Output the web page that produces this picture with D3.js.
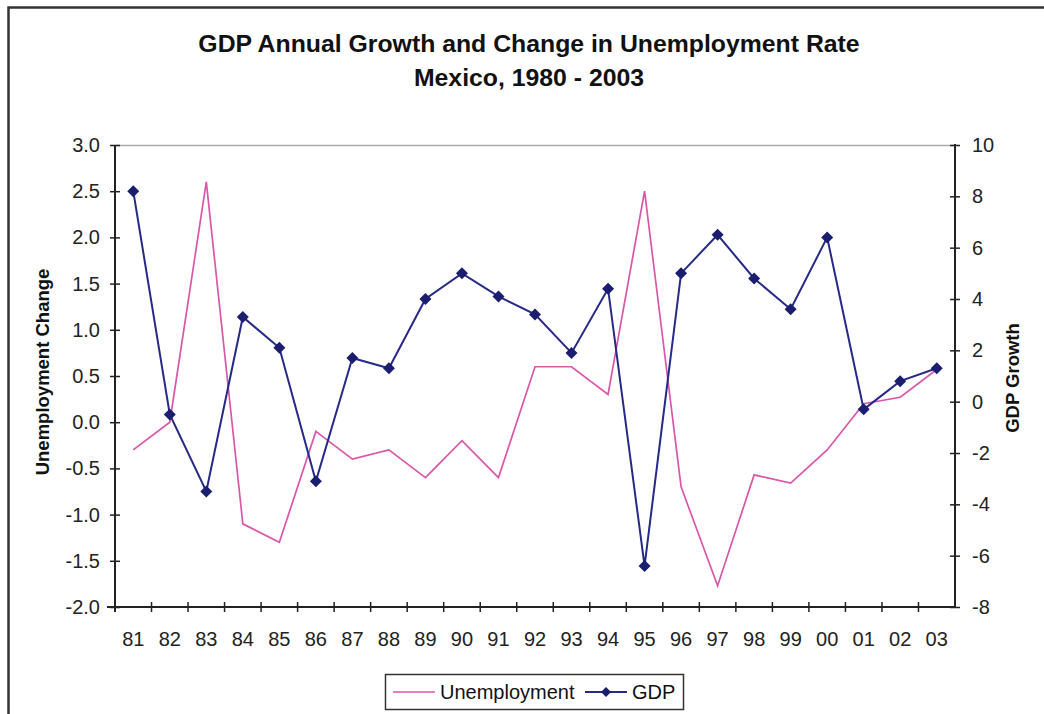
<!DOCTYPE html>
<html>
<head>
<meta charset="utf-8">
<script src="https://cdn.jsdelivr.net/npm/d3@7"></script>
<style>
  html, body { margin: 0; padding: 0; background: #fff; }
  svg { display: block; font-family: "Liberation Sans", Arial, sans-serif; }
</style>
</head>
<body>
<svg id="chart" width="1044" height="714"></svg>
<script>
const years = ["81","82","83","84","85","86","87","88","89","90","91","92","93","94","95","96","97","98","99","00","01","02","03"];
const unemployment = [-0.3, 0.0, 2.6, -1.1, -1.3, -0.1, -0.4, -0.3, -0.6, -0.2, -0.6, 0.6, 0.6, 0.3, 2.5, -0.7, -1.77, -0.57, -0.66, -0.3, 0.2, 0.27, 0.57];
const gdp = [8.2, -0.5, -3.5, 3.3, 2.1, -3.1, 1.7, 1.3, 4.0, 5.0, 4.1, 3.4, 1.9, 4.4, -6.4, 5.0, 6.5, 4.8, 3.6, 6.4, -0.3, 0.8, 1.3];
const leftTicks = [3.0, 2.5, 2.0, 1.5, 1.0, 0.5, 0.0, -0.5, -1.0, -1.5, -2.0];
const rightTicks = [10, 8, 6, 4, 2, 0, -2, -4, -6, -8];
const titleLines = ["GDP Annual Growth and Change in Unemployment Rate", "Mexico, 1980 - 2003"];

const svg = d3.select("#chart");
const L = 115, R = 955, T = 145, B = 607;
const pink = "#d957a9", navy = "#262a86", markFill = "#1b1d6e";
const FS = 20;
const hyphen = f => d => f(d).replace("\u2212", "-");

// outer frame (top & left visible)
svg.append("path").attr("d", "M8.5,714 L8.5,7.5 L1044,7.5")
  .attr("fill", "none").attr("stroke", "#333").attr("stroke-width", 2.5);

// title
svg.selectAll("text.title").data(titleLines).enter().append("text")
  .attr("class", "title")
  .attr("x", 529).attr("y", (d, i) => 52 + i * 34)
  .attr("text-anchor", "middle")
  .style("font-size", "24.8px").attr("font-weight", "bold").attr("fill", "#111")
  .text(d => d);

const x = d3.scaleBand().domain(years).range([L, R]);
const yL = d3.scaleLinear().domain([-2, 3]).range([B, T]);
const yR = d3.scaleLinear().domain([-8, 10]).range([B, T]);

// top plot border (grey)
svg.append("line").attr("x1", L).attr("x2", R).attr("y1", T + 0.5).attr("y2", T + 0.5)
  .attr("stroke", "#aaa").attr("stroke-width", 1.5);

function styleTicks(g) {
  g.selectAll("text").style("font-size", FS + "px").attr("fill", "#222")
    .style("font-family", "'Liberation Sans', Arial, sans-serif");
}

// left axis
const gL = svg.append("g").attr("transform", `translate(${L},0)`)
  .call(d3.axisLeft(yL).tickValues(leftTicks).tickFormat(hyphen(d3.format(".1f"))).tickSize(0).tickPadding(15));
gL.select(".domain").remove();
gL.append("line").attr("y1", T).attr("y2", B + 5).attr("stroke", "#222").attr("stroke-width", 2);
gL.selectAll(".tick").append("line").attr("x1", -5).attr("x2", 5).attr("stroke", "#222").attr("stroke-width", 1.5);
styleTicks(gL);

// right axis
const gR = svg.append("g").attr("transform", `translate(${R},0)`)
  .call(d3.axisRight(yR).tickValues(rightTicks).tickFormat(hyphen(d3.format("d"))).tickSize(0).tickPadding(17));
gR.select(".domain").remove();
gR.append("line").attr("y1", T - 1).attr("y2", B + 1).attr("stroke", "#222").attr("stroke-width", 2);
gR.selectAll(".tick").append("line").attr("x1", -5).attr("x2", 5).attr("stroke", "#222").attr("stroke-width", 1.5);
styleTicks(gR);

// bottom axis
const gB = svg.append("g").attr("transform", `translate(0,${B})`)
  .call(d3.axisBottom(x).tickSize(0).tickPadding(25));
gB.select(".domain").remove();
gB.append("line").attr("x1", L - 8).attr("x2", R).attr("stroke", "#222").attr("stroke-width", 2);
const bounds = years.map(y => x(y)).concat([R]);
gB.selectAll("line.bt").data(bounds.slice(1, -1)).enter().append("line").attr("class", "bt")
  .attr("x1", d => d).attr("x2", d => d).attr("y1", -5).attr("y2", 5)
  .attr("stroke", "#222").attr("stroke-width", 1.5);
styleTicks(gB);

// axis titles
svg.append("text").attr("transform", "translate(49,372) rotate(-90)")
  .attr("text-anchor", "middle").style("font-size", "18.5px").attr("font-weight", "bold").attr("fill", "#111")
  .text("Unemployment Change");
svg.append("text").attr("transform", "translate(1019,378) rotate(-90)")
  .attr("text-anchor", "middle").style("font-size", "18.5px").attr("font-weight", "bold").attr("fill", "#111")
  .text("GDP Growth");

const cx = d => x(d) + x.bandwidth() / 2;

// unemployment line
svg.append("path").datum(years.map((yr, i) => [cx(yr), yL(unemployment[i])]))
  .attr("d", d3.line()).attr("fill", "none").attr("stroke", pink).attr("stroke-width", 1.7);

// gdp line
svg.append("path").datum(years.map((yr, i) => [cx(yr), yR(gdp[i])]))
  .attr("d", d3.line()).attr("fill", "none").attr("stroke", navy).attr("stroke-width", 2);

const diamond = d3.symbol().type(d3.symbolSquare).size(72);
svg.selectAll("path.gm").data(years).enter().append("path").attr("class", "gm")
  .attr("transform", (d, i) => `translate(${cx(d)},${yR(gdp[i])}) rotate(45)`)
  .attr("d", diamond).attr("fill", markFill);

// legend
const lg = svg.append("g");
lg.append("rect").attr("x", 385.5).attr("y", 674.5).attr("width", 298).attr("height", 35)
  .attr("fill", "#fff").attr("stroke", "#333").attr("stroke-width", 1.5);
lg.append("line").attr("x1", 393).attr("x2", 435).attr("y1", 692).attr("y2", 692).attr("stroke", pink).attr("stroke-width", 1.7);
lg.append("text").attr("x", 440).attr("y", 699).style("font-size", FS + "px").attr("fill", "#111").text("Unemployment");
lg.append("line").attr("x1", 585).attr("x2", 627).attr("y1", 692).attr("y2", 692).attr("stroke", navy).attr("stroke-width", 2);
lg.append("path").attr("transform", "translate(606,692) rotate(45)").attr("d", d3.symbol().type(d3.symbolSquare).size(50)).attr("fill", markFill);
lg.append("text").attr("x", 632).attr("y", 699).style("font-size", FS + "px").attr("fill", "#111").text("GDP");
</script>
</body>
</html>
